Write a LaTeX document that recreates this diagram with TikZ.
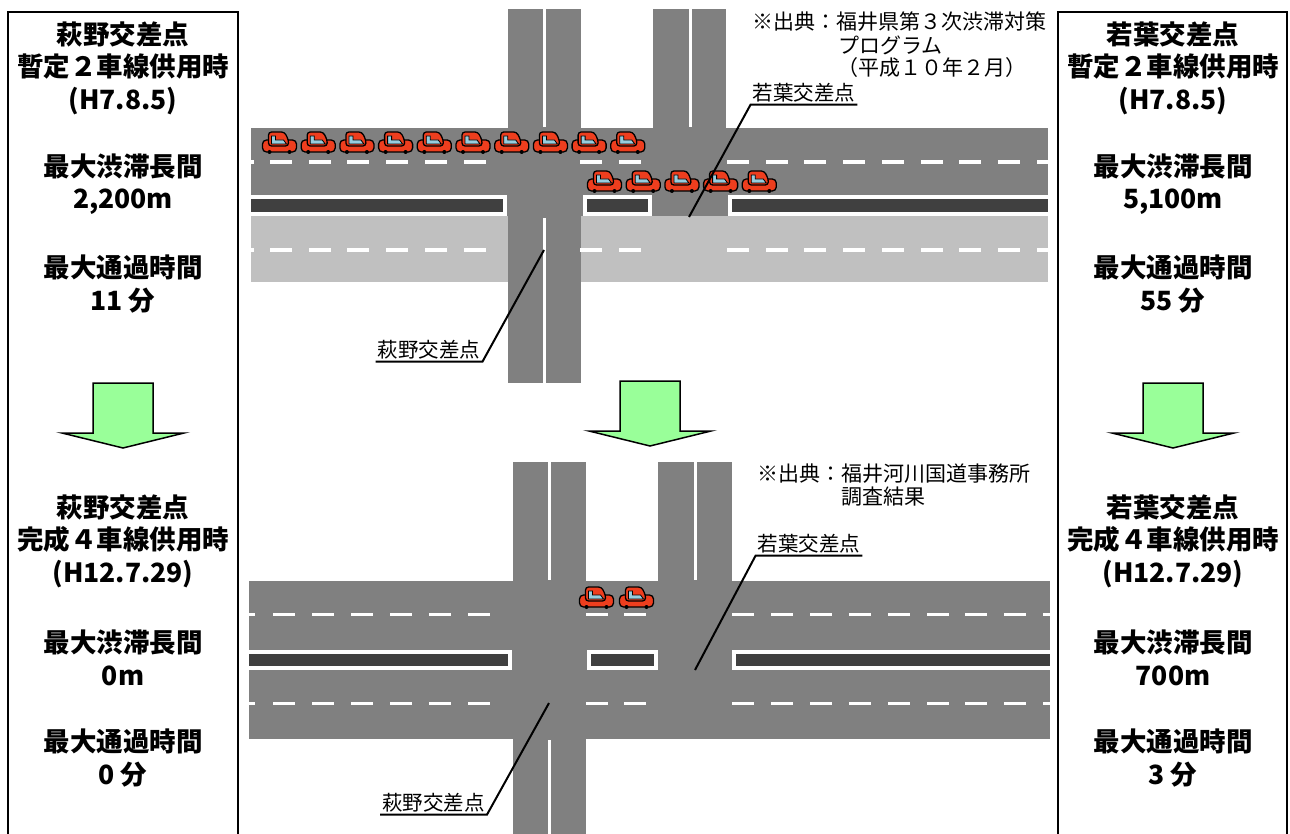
\documentclass[tikz,border=0pt]{standalone}
\usepackage{fontspec}
\newfontfamily\jpfont{Noto Sans CJK JP}
\usetikzlibrary{positioning}

\definecolor{roadgray}{RGB}{128,128,128}
\definecolor{roadlight}{RGB}{192,192,192}
\definecolor{mediandark}{RGB}{64,64,64}
\definecolor{carred}{RGB}{238,62,30}
\definecolor{carglass}{RGB}{150,205,222}
\definecolor{arrowgreen}{RGB}{153,255,153}

\begin{document}
\begin{tikzpicture}[x=1pt,y=-1pt,
  panel/.style={draw=black,line width=1.6pt},
  paneltext/.style={font=\jpfont\bfseries\fontsize{26.5}{32.5}\selectfont,align=center,inner sep=0pt},
  roadlabel/.style={font=\jpfont\fontsize{20.5}{22}\selectfont,inner sep=2pt},
  srcnote/.style={font=\jpfont\fontsize{21}{22}\selectfont,inner sep=0pt,anchor=west},
  leader/.style={draw=black,line width=2pt},
  lanemark/.style={fill=white},
  car/.pic={
    \filldraw[fill=carred,draw=black,line width=1.3pt,rounded corners=4] (-17,9) rectangle (17,-3);
    \filldraw[fill=carred,draw=black,line width=1.3pt,rounded corners=3] (-11,3) -- (-11,-11) -- (5,-11) -- (9,-3) -- (9,3) -- cycle;
    \filldraw[fill=carglass,draw=black,line width=0.8pt] (-8,1) -- (-8,-7) -- (-4,-7) -- (-4,-3) -- (4,-3) -- (7,1) -- cycle;
    \fill[black] (-10,9) circle (2) (10,9) circle (2);
  },
  bigarrow/.pic={
    \draw[fill=arrowgreen,line width=1.5pt,line join=miter]
      (-61,0) -- (-30,0) -- (-30,-50) -- (30,-50) -- (30,0) -- (61,0) -- (0,15) -- cycle;
  }]
  \useasboundingbox (0,0) rectangle (1290,834);

  % ---- before: two-lane road ----
  \fill[roadgray] (251,128) rectangle (1048,216);
  \fill[roadlight] (251,216) rectangle (1048,282);
  \fill[roadgray] (508,9) rectangle (581,383);
  \fill[roadgray] (653,9) rectangle (726,216);
  \fill[lanemark] (542.5,9) rectangle (545.5,127);
  \fill[lanemark] (542.5,218) rectangle (545.5,383);
  \fill[lanemark] (688.5,9) rectangle (691.5,127);
  % medians
  \fill[white] (251,195) rectangle (507,216);
  \fill[mediandark] (251,199) rectangle (503,212);
  \fill[white] (583,195) rectangle (652,216);
  \fill[mediandark] (587,199) rectangle (648,212);
  \fill[white] (728,195) rectangle (1048,216);
  \fill[mediandark] (732,199) rectangle (1048,212);
  % lane dashes
  \foreach \y in {160.5,248.5} {
    \fill[lanemark] (251,\y) rectangle (253.5,\y+3.5);
    \foreach \k in {0,...,5}
      \fill[lanemark] ({270+38.7*\k},\y) rectangle ++(22,3.5);
    \fill[lanemark] (580,\y) rectangle ++(22,3.5);
    \fill[lanemark] (619,\y) rectangle ++(22,3.5);
    \foreach \k in {0,...,7}
      \fill[lanemark] ({727+38.7*\k},\y) rectangle ++(22,3.5);
    \fill[lanemark] (1036.6,\y) rectangle (1048,\y+3.5);
  }
  % queue
  \foreach \k in {0,...,9}
    \pic at ({279.5+38.7*\k},143) {car};
  \foreach \k in {0,...,4}
    \pic at ({604.5+38.7*\k},182) {car};

  \node[srcnote] (srcA1) at (752,22) {※出典：福井県第３次渋滞対策};
  \node[srcnote] (srcA2) at (838,45) {プログラム};
  \node[srcnote] (srcA3) at (837,68) {（平成１０年２月）};

  \coordinate (wakTopPt) at (689,217);
  \node[roadlabel] (wakTop) at (804,93) {若葉交差点};
  \draw[leader] (wakTop.south east) -- (wakTop.south west) -- (wakTopPt);
  \coordinate (hagTopPt) at (544,250);
  \node[roadlabel] (hagTop) at (429,350) {萩野交差点};
  \draw[leader] (hagTop.south west) -- (hagTop.south east) -- (hagTopPt);

  % ---- after: four-lane road ----
  \fill[roadgray] (249,581) rectangle (1050,739);
  \fill[roadgray] (513,462) rectangle (586,834);
  \fill[roadgray] (658,462) rectangle (732,581);
  \fill[lanemark] (547.5,462) rectangle (550.5,580);
  \fill[lanemark] (547.5,740) rectangle (550.5,834);
  \fill[lanemark] (693.5,462) rectangle (696.5,580);
  \fill[white] (249,650) rectangle (512,670);
  \fill[mediandark] (249,654) rectangle (508,666);
  \fill[white] (587,650) rectangle (658,670);
  \fill[mediandark] (591,654) rectangle (654,666);
  \fill[white] (732,650) rectangle (1050,670);
  \fill[mediandark] (736,654) rectangle (1050,666);
  \foreach \y in {612.5,701.5} {
    \fill[lanemark] (249,\y) rectangle (255,\y+3.5);
    \foreach \k in {0,...,5}
      \fill[lanemark] ({273+39*\k},\y) rectangle ++(22,3.5);
    \fill[lanemark] (586,\y) rectangle ++(22,3.5);
    \fill[lanemark] (624,\y) rectangle ++(22,3.5);
    \foreach \k in {0,...,7}
      \fill[lanemark] ({732+38.9*\k},\y) rectangle ++(22,3.5);
    \fill[lanemark] (1043,\y) rectangle (1050,\y+3.5);
  }
  \pic at (596.5,598) {car};
  \pic at (636.5,598) {car};

  \node[srcnote] (srcB1) at (757,474) {※出典：福井河川国道事務所};
  \node[srcnote] (srcB2) at (841,497) {調査結果};

  \coordinate (wakBotPt) at (695,670);
  \node[roadlabel] (wakBot) at (809,544) {若葉交差点};
  \draw[leader] (wakBot.south east) -- (wakBot.south west) -- (wakBotPt);
  \coordinate (hagBotPt) at (549,703);
  \node[roadlabel] (hagBot) at (433.5,803) {萩野交差点};
  \draw[leader] (hagBot.south west) -- (hagBot.south east) -- (hagBotPt);

  % ---- side panels ----
  \draw[panel] (8,840) -- (8,12) -- (238,12) -- (238,840);
  \draw[panel] (1058,840) -- (1058,12) -- (1287,12) -- (1287,840);

  \node[paneltext] (hagBefore) at (123,68) {萩野交差点\\暫定２車線供用時\\(H7.8.5)};
  \node[paneltext] (hagLenA) at (123,184) {最大渋滞長間\\2,200m};
  \node[paneltext] (hagTimeA) at (123,284) {最大通過時間\\11 分};
  \node[paneltext] (hagAfter) at (123,541) {萩野交差点\\完成４車線供用時\\(H12.7.29)};
  \node[paneltext] (hagLenB) at (123,658) {最大渋滞長間\\0m};
  \node[paneltext] (hagTimeB) at (123,758) {最大通過時間\\0 分};

  \node[paneltext] (wakBefore) at (1173,68) {若葉交差点\\暫定２車線供用時\\(H7.8.5)};
  \node[paneltext] (wakLenA) at (1173,184) {最大渋滞長間\\5,100m};
  \node[paneltext] (wakTimeA) at (1173,284) {最大通過時間\\55 分};
  \node[paneltext] (wakAfter) at (1173,541) {若葉交差点\\完成４車線供用時\\(H12.7.29)};
  \node[paneltext] (wakLenB) at (1173,658) {最大渋滞長間\\700m};
  \node[paneltext] (wakTimeB) at (1173,758) {最大通過時間\\3 分};

  % arrows between the two states
  \pic at (123,433) {bigarrow};
  \pic at (650,431) {bigarrow};
  \pic at (1173,433) {bigarrow};
\end{tikzpicture}
\end{document}
